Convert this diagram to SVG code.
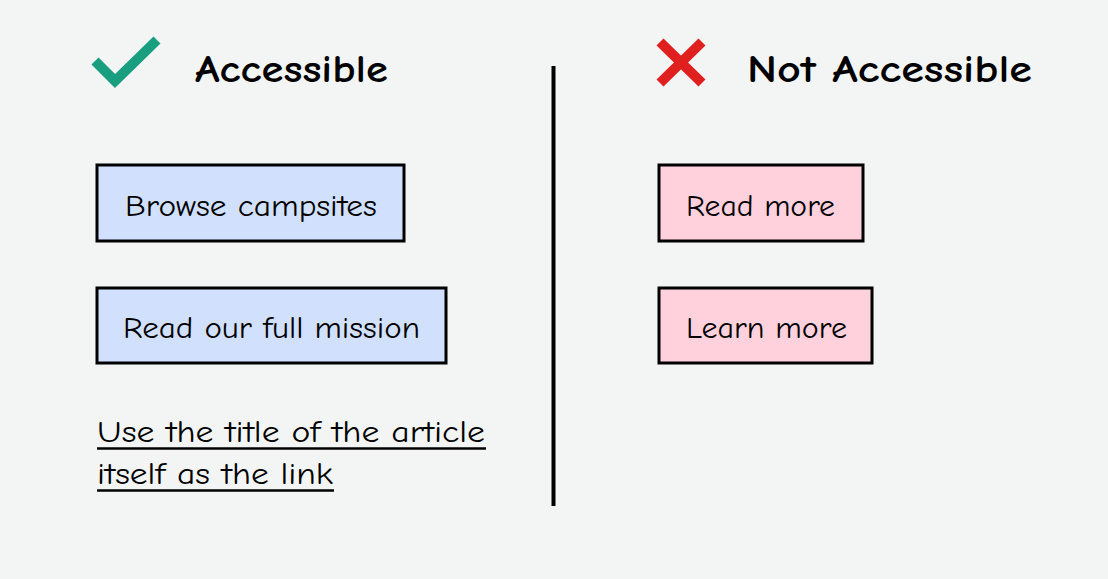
<svg xmlns="http://www.w3.org/2000/svg" width="1108" height="579" viewBox="0 0 1108 579">
<style>
text{font-family:"Comic Sans MS","Comic Neue","DejaVu Sans",sans-serif;fill:#000}
.title{font-size:39px;font-weight:bold}
.lbl{font-size:31px}
.box{stroke:#000;stroke-width:3}
.ok{fill:#d1e0fd}
.bad{fill:#fed1dd}
.ul{stroke:#000;stroke-width:2.5}
</style>
<rect width="1108" height="579" fill="#f2f5f4"/>
<g id="header-accessible">
<polyline points="95,61 115,81 157,40" fill="none" stroke="#199e80" stroke-width="10"/>
<text class="title" x="195" y="82" textLength="193" lengthAdjust="spacingAndGlyphs">Accessible</text>
</g>
<g id="header-not-accessible">
<path d="M660,42 L702,83 M702,42 L660,83" stroke="#e0201f" stroke-width="10"/>
<text class="title" x="747" y="82" textLength="285" lengthAdjust="spacingAndGlyphs">Not Accessible</text>
</g>
<g id="divider">
<line x1="553.5" y1="66" x2="553.5" y2="506" stroke="#000" stroke-width="4"/>
</g>
<g id="browse-campsites">
<rect class="box ok" x="97" y="165" width="307" height="76"/>
<text class="lbl" x="125" y="216" textLength="252" lengthAdjust="spacingAndGlyphs">Browse campsites</text>
</g>
<g id="read-our-full-mission">
<rect class="box ok" x="97" y="288" width="349" height="75"/>
<text class="lbl" x="123" y="338" textLength="297" lengthAdjust="spacingAndGlyphs">Read our full mission</text>
</g>
<g id="read-more">
<rect class="box bad" x="659" y="165" width="204" height="76"/>
<text class="lbl" x="686" y="216" textLength="149" lengthAdjust="spacingAndGlyphs">Read more</text>
</g>
<g id="learn-more">
<rect class="box bad" x="659" y="288" width="213" height="75"/>
<text class="lbl" x="686" y="338" textLength="161" lengthAdjust="spacingAndGlyphs">Learn more</text>
</g>
<g id="link-text">
<text class="lbl" x="97" y="442" textLength="388" lengthAdjust="spacingAndGlyphs">Use the title of the article</text>
<line class="ul" x1="97" y1="448.5" x2="486" y2="448.5"/>
<text class="lbl" x="97" y="484" textLength="236" lengthAdjust="spacingAndGlyphs">itself as the link</text>
<line class="ul" x1="97" y1="490.5" x2="334" y2="490.5"/>
</g>
</svg>
